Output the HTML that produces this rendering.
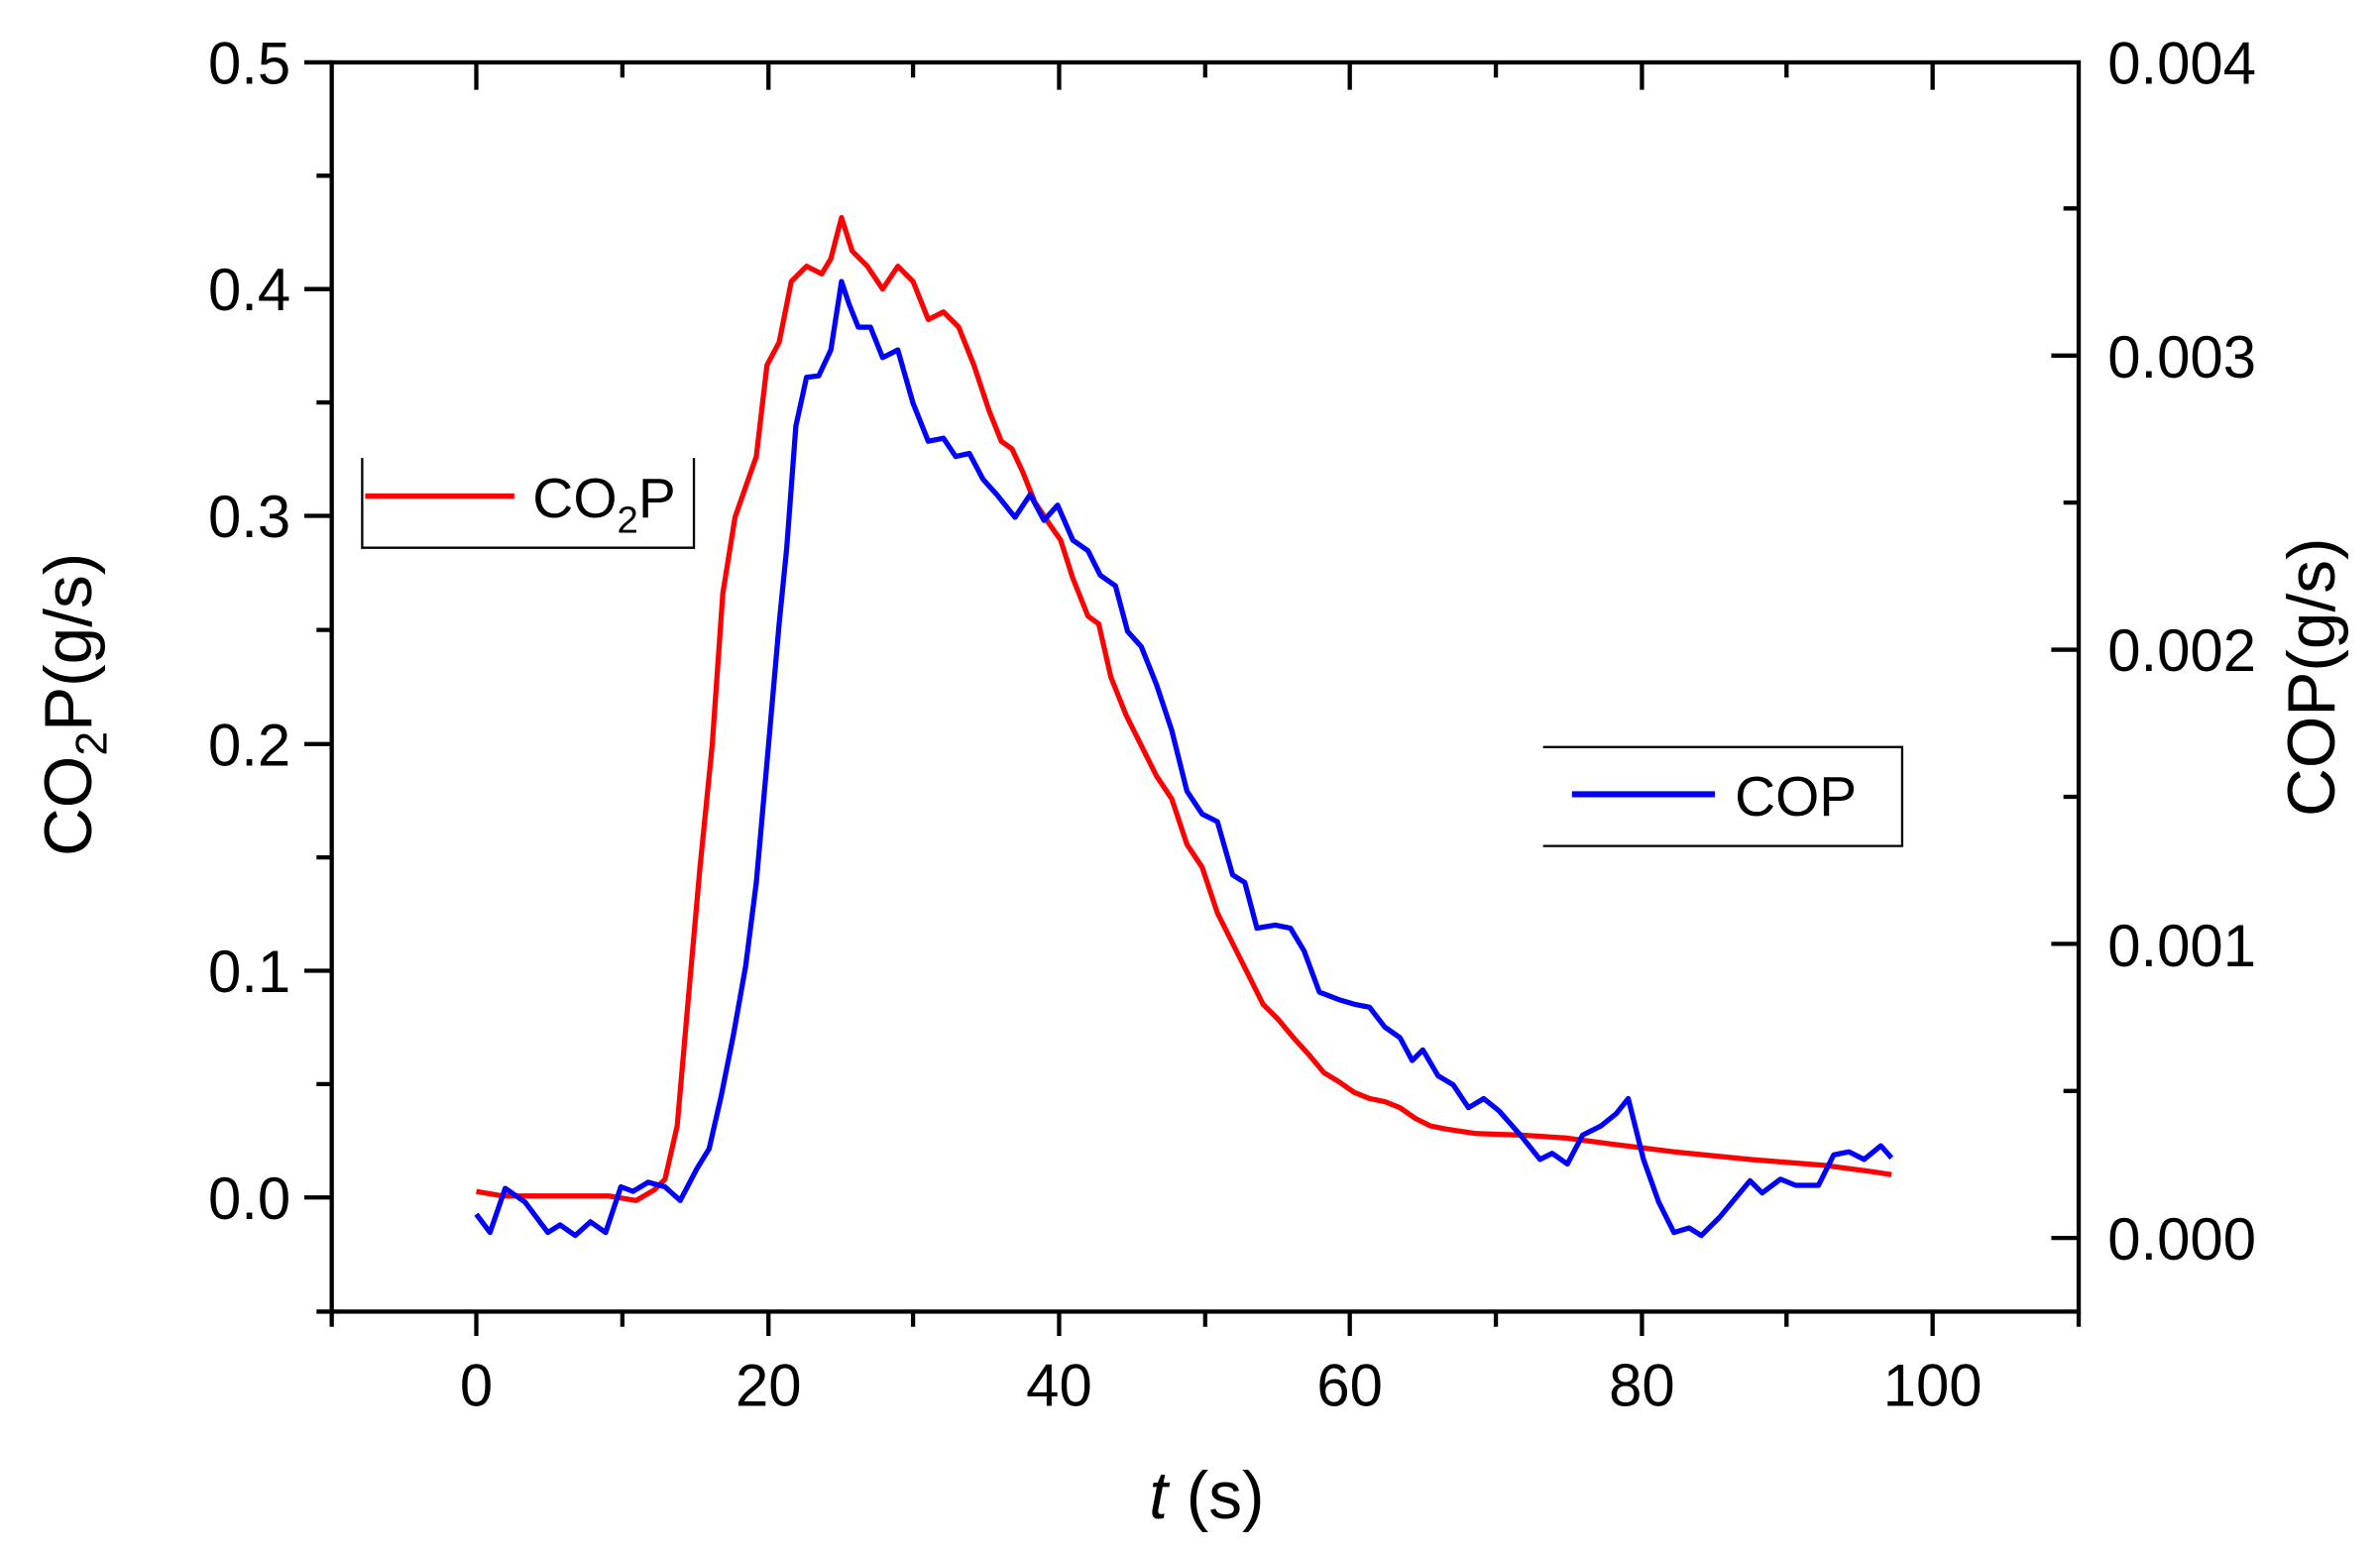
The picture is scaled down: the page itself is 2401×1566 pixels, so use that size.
<!DOCTYPE html>
<html><head><meta charset="utf-8"><style>html,body{margin:0;padding:0;background:#fff}svg{display:block}</style></head>
<body>
<svg width="2401" height="1566" viewBox="0 0 1564 1020" preserveAspectRatio="none" xmlns="http://www.w3.org/2000/svg" font-family="Liberation Sans, Arial, sans-serif">
<rect width="1564" height="1020" fill="#fff"/>
<g stroke="#000" stroke-width="2.8" fill="none">
<rect x="218" y="41" width="1148" height="821"/>
<path d="M218 41h-18M218 190h-18M218 339h-18M218 489h-18M218 638h-18M218 787h-18M218 115.5h-10M218 264.5h-10M218 414h-10M218 563.5h-10M218 712.5h-10M218 862h-10"/>
<path d="M218 862v10M313 862v16M409 862v10M505 862v16M600 862v10M696 862v16M792 862v10M887 862v16M983 862v10M1079 862v16M1174 862v10M1270 862v16M1366 862v10"/>
<path d="M313 41v18M505 41v18M696 41v18M887 41v18M1079 41v18M1270 41v18M409 41v10M600 41v10M792 41v10M983 41v10M1174 41v10"/>
<path d="M1366 813.6h-18M1366 620.3h-18M1366 427h-18M1366 233.7h-18M1366 717h-10M1366 523.7h-10M1366 330.3h-10M1366 137h-10"/>
</g>
<g font-size="39" fill="#000">
<g text-anchor="end">
<text x="191" y="55">0.5</text><text x="191" y="204">0.4</text><text x="191" y="353">0.3</text><text x="191" y="503">0.2</text><text x="191" y="652">0.1</text><text x="191" y="801">0.0</text>
</g>
<g text-anchor="middle">
<text x="313" y="924">0</text><text x="505" y="924">20</text><text x="696" y="924">40</text><text x="887" y="924">60</text><text x="1079" y="924">80</text><text x="1270" y="924">100</text>
</g>
<text x="1385" y="55">0.004</text><text x="1385" y="248">0.003</text><text x="1385" y="441">0.002</text><text x="1385" y="635">0.001</text><text x="1385" y="828">0.000</text>
</g>
<text x="793" y="998" font-size="44" text-anchor="middle"><tspan font-style="italic">t</tspan> (s)</text>
<text transform="translate(60,463) rotate(-90)" font-size="44" text-anchor="middle">CO<tspan font-size="29" dy="10">2</tspan><tspan dy="-10">P(g/s)</tspan></text>
<text transform="translate(1534,445) rotate(-90)" font-size="44" text-anchor="middle">COP(g/s)</text>
<g stroke="#000" stroke-width="1.5" fill="none">
<path d="M238 301V360H456V301"/>
<path d="M1014 491H1250V556H1014"/>
</g>
<path d="M240 326H338" stroke="#f00" stroke-width="3.5"/>
<text x="350" y="340" font-size="37">CO<tspan font-size="25" dy="10">2</tspan><tspan dy="-10">P</tspan></text>
<path d="M1033 522H1127" stroke="#00f" stroke-width="4"/>
<text x="1140" y="536" font-size="37">COP</text>
<polyline fill="none" stroke="#f00" stroke-width="3.4" stroke-linejoin="round" points="313,783 330,786 400,786 418,789 430,782 437,775 445,740 452,660 460,570 468,490 475,390 483,340 490,320 497,300 504,240 512,225 520,185 530,175 540,180 546,170 553,143 560,165 570,175 580,190 590,175 600,185 610,210 620,205 630,215 640,240 650,270 658,290 665,295 672,310 680,330 690,345 697,355 705,380 715,405 722,410 730,445 740,470 750,490 760,510 770,525 780,555 790,570 800,600 810,620 820,640 830,660 840,670 850,682 860,693 870,705 880,711 890,718 900,722 910,724 920,728 930,735 940,740 950,742 970,745 1000,746 1030,748 1060,752 1100,757 1150,762 1200,766 1230,770 1243,772"/>
<polyline fill="none" stroke="#00f" stroke-width="3.4" stroke-linejoin="round" points="313,798 322,810 332,781 345,790 360,810 368,805 378,812 388,803 398,810 408,780 416,783 426,777 437,780 447,789 458,768 466,755 474,720 482,680 490,635 497,580 505,490 512,410 517,360 523,280 530,248 538,247 546,230 553,185 558,200 564,215 572,215 580,235 590,230 600,265 610,290 620,288 628,300 637,298 646,315 655,325 667,340 677,325 686,342 695,332 705,355 715,362 723,378 733,385 741,415 750,425 760,450 770,480 780,520 790,535 800,540 810,575 818,580 826,610 838,608 848,610 857,625 867,652 880,657 890,660 900,662 910,675 920,682 928,697 935,690 945,707 955,713 965,728 975,722 985,730 1000,747 1012,762 1020,758 1030,765 1040,746 1052,740 1062,732 1070,722 1080,762 1090,790 1100,810 1110,807 1118,812 1130,800 1140,788 1150,776 1158,784 1170,775 1180,779 1195,779 1205,759 1215,757 1225,762 1236,753 1243,761"/>
</svg>
</body></html>
